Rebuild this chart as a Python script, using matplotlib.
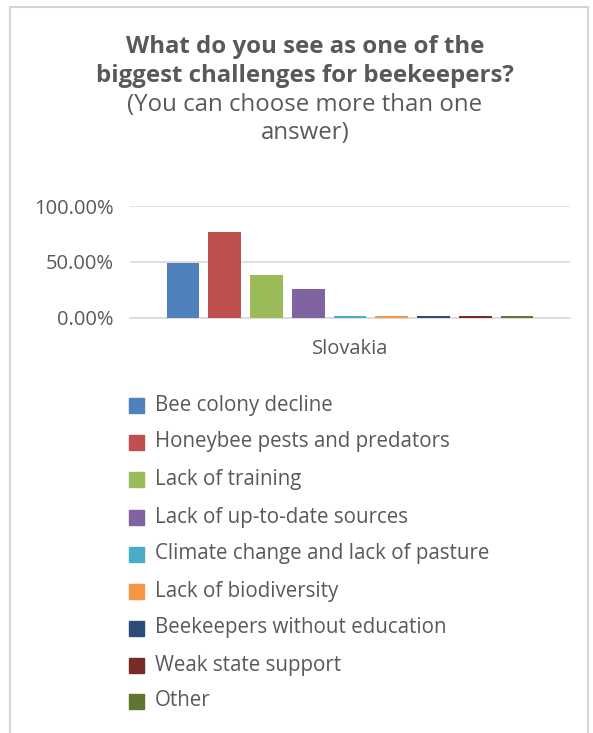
import matplotlib
matplotlib.use("Agg")
import matplotlib.pyplot as plt
from matplotlib.patches import Rectangle, Polygon
from matplotlib.ticker import FuncFormatter

# Survey answers for Slovakia (share of respondents, percent)
categories = [
    "Bee colony decline",
    "Honeybee pests and predators",
    "Lack of training",
    "Lack of up-to-date sources",
    "Climate change and lack of pasture",
    "Lack of biodiversity",
    "Beekeepers without education",
    "Weak state support",
    "Other",
]
values = [48.72, 76.92, 38.46, 25.64, 1.5, 1.5, 1.5, 1.5, 1.5]
colors = ["#4F81BD", "#C0504D", "#9BBB59", "#8064A2", "#4BACC6",
          "#F79646", "#2C4D75", "#772C2A", "#5F7530"]
group_label = "Slovakia"
y_ticks = [0, 50, 100]

W, H = 593, 733
fig = plt.figure(figsize=(W / 100, H / 100), dpi=100)
fig.patch.set_facecolor("white")

text_color = "#595959"
font = ["Open Sans", "DejaVu Sans"]

def px(x, y):
    """Pixel position (from top-left) to figure fraction."""
    return x / W, 1 - y / H

# chart frame
frame = Polygon([px(10, 740), px(10, 7), px(588, 7), px(588, 740)],
                closed=False, transform=fig.transFigure, fill=False,
                edgecolor="#D4D4D4", linewidth=1.5, clip_on=False)
fig.add_artist(frame)

# title
title_lines = [
    ("What do you see as one of the", "bold", 47),
    ("biggest challenges for beekeepers?", "bold", 76),
    ("(You can choose more than one", "normal", 105),
    ("answer)", "normal", 133),
]
for txt, weight, y in title_lines:
    fig.text(*px(305, y), txt, ha="center", va="center", fontsize=17.3,
             fontweight=weight, color=text_color, family=font)

# plot area
ax_left, ax_right = 130, 570
ax_top, ax_bottom = 206, 317.7
ax = fig.add_axes([ax_left / W, 1 - ax_bottom / H,
                   (ax_right - ax_left) / W, (ax_bottom - ax_top) / H])
positions = list(range(len(values)))
ax.bar(positions, values, width=0.78, color=colors, zorder=3)
ax.set_xlim(-1.27, len(values) - 1 + 1.27)
ax.set_ylim(0, 100)
ax.set_yticks(y_ticks)
ax.yaxis.set_major_formatter(FuncFormatter(lambda v, _: f"{v:.2f}%"))
ax.grid(axis="y", color="#D9D9D9", linewidth=1.2, zorder=0)
ax.set_xticks([(len(values) - 1) / 2])
ax.set_xticklabels([group_label])
for s in ["top", "right", "left"]:
    ax.spines[s].set_visible(False)
ax.spines["bottom"].set_color("#D9D9D9")
ax.spines["bottom"].set_linewidth(1.2)
ax.tick_params(axis="y", length=0, colors=text_color, labelsize=14.5, pad=12)
ax.tick_params(axis="x", length=0, colors=text_color, labelsize=14.5, pad=15)
for lab in ax.get_xticklabels() + ax.get_yticklabels():
    lab.set_family(font)
    lab.set_color(text_color)
ax.set_facecolor("none")

# legend
leg_rows = [405, 442, 479, 517, 554, 591, 628, 665, 701]
for name, col, y in zip(categories, colors, leg_rows):
    x0, y0 = px(129, y + 7.5)
    fig.add_artist(Rectangle((x0, y0), 15 / W, 15 / H,
                             transform=fig.transFigure, color=col))
    fig.text(*px(155, y), name, ha="left", va="center", fontsize=14.8,
             color=text_color, family=font)

fig.savefig("out.png", dpi=100, facecolor="white")
